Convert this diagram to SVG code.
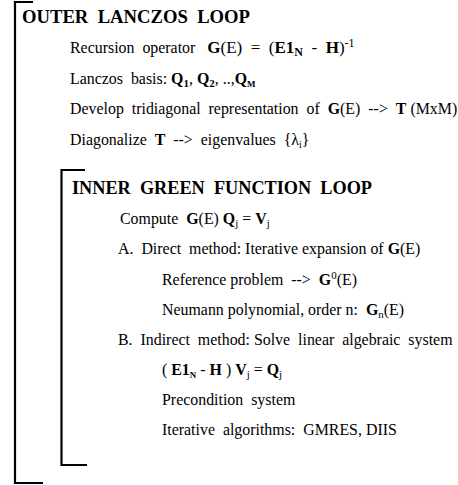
<svg xmlns="http://www.w3.org/2000/svg" width="458" height="485" viewBox="0 0 458 485">
<style>
text{font-family:"Liberation Serif","Times New Roman",serif;fill:#000;white-space:pre}
.t{font-size:18.5px;font-weight:bold}
.b{font-size:15.9px}
.k{font-weight:bold}
.br{fill:none;stroke:#000;stroke-width:2.2}
</style>
<rect width="458" height="485" fill="#fff"/>
<g id="connectors">
<path class="br" d="M33,2 H15 V483 H43"/>
<path class="br" d="M85,170 H61.5 V465 H87"/>
</g>
<g id="outer">
<text class="t" x="22" y="23" textLength="228" lengthAdjust="spacingAndGlyphs">OUTER  LANCZOS  LOOP</text>
<text class="b" x="70" y="53">Recursion  operator   <tspan font-size="17"><tspan class="k">G</tspan>(E)  =  (<tspan class="k">E1</tspan><tspan class="k" font-size="12" dy="3">N</tspan><tspan dy="-3">  -  </tspan><tspan class="k">H</tspan>)<tspan font-size="12" dy="-6">-1</tspan></tspan></text>
<text class="b" x="70" y="84">Lanczos  basis: <tspan class="k">Q</tspan><tspan class="k" font-size="11" dy="3">1</tspan><tspan dy="-3">, </tspan><tspan class="k">Q</tspan><tspan class="k" font-size="11" dy="3">2</tspan><tspan dy="-3">, ..,</tspan><tspan class="k">Q</tspan><tspan class="k" font-size="9" dy="3">M</tspan></text>
<text class="b" x="70" y="114">Develop  tridiagonal  representation  of  <tspan class="k">G</tspan>(E)  --&gt;  <tspan class="k">T</tspan> (MxM)</text>
<text class="b" x="70" y="145">Diagonalize  <tspan class="k">T</tspan>  --&gt;  eigenvalues  {λ<tspan font-size="10" dy="3">i</tspan><tspan dy="-3">}</tspan></text>
</g>
<g id="inner">
<text class="t" x="72" y="194" textLength="300" lengthAdjust="spacingAndGlyphs">INNER  GREEN  FUNCTION  LOOP</text>
<text class="b" x="120" y="224">Compute  <tspan class="k">G</tspan>(E) <tspan class="k">Q</tspan><tspan font-size="11" dy="3">j</tspan><tspan dy="-3"> = </tspan><tspan class="k">V</tspan><tspan font-size="11" dy="3">j</tspan></text>
<text class="b" x="118" y="254">A.  Direct  method: Iterative expansion of <tspan class="k">G</tspan>(E)</text>
<text class="b" x="162" y="285">Reference problem  --&gt;  <tspan class="k">G</tspan><tspan font-size="11" dy="-6">0</tspan><tspan dy="6">(E)</tspan></text>
<text class="b" x="162" y="315">Neumann polynomial, order n:  <tspan class="k">G</tspan><tspan font-size="11" dy="3">n</tspan><tspan dy="-3">(E)</tspan></text>
<text class="b" x="118" y="345">B.  Indirect  method: Solve  linear  algebraic  system</text>
<text class="b" x="162" y="375">( <tspan class="k">E1</tspan><tspan class="k" font-size="9" dy="3">N</tspan><tspan dy="-3"> - </tspan><tspan class="k">H</tspan> ) <tspan class="k">V</tspan><tspan font-size="11" dy="3">j</tspan><tspan dy="-3"> = </tspan><tspan class="k">Q</tspan><tspan font-size="11" dy="3">j</tspan></text>
<text class="b" x="162" y="405">Precondition  system</text>
<text class="b" x="162" y="435">Iterative  algorithms:  GMRES, DIIS</text>
</g>
</svg>
